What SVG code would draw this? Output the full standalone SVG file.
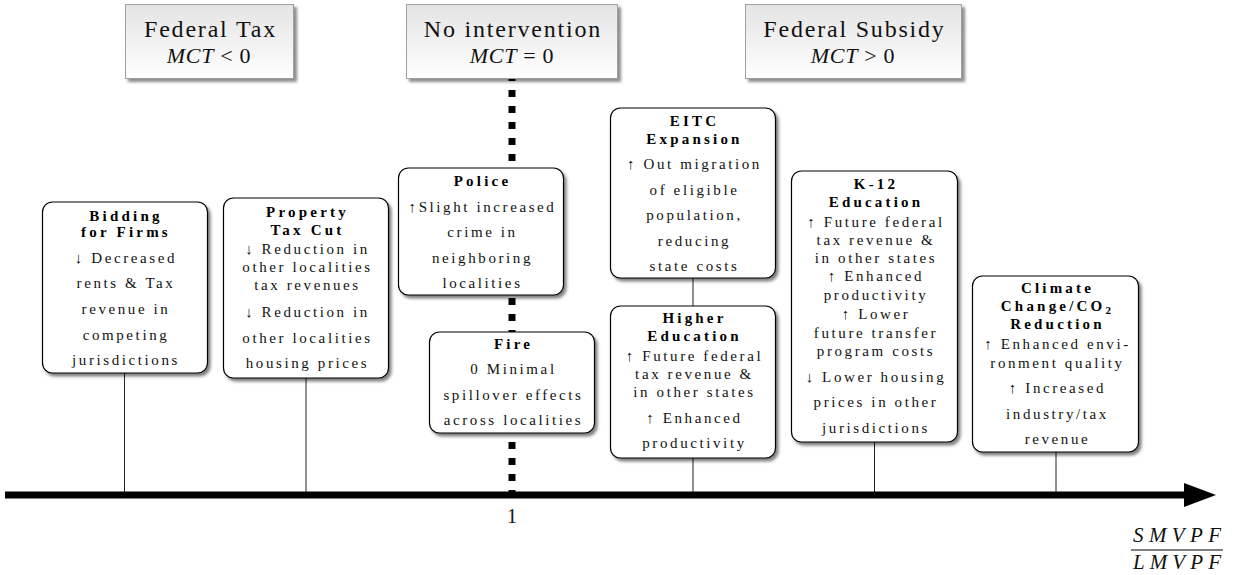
<svg xmlns="http://www.w3.org/2000/svg" width="1236" height="575" viewBox="0 0 1236 575">
<defs>
<linearGradient id="hg" x1="0" y1="0" x2="0" y2="1">
<stop offset="0" stop-color="#e4e4e4"/>
<stop offset="1" stop-color="#ffffff"/>
</linearGradient>
<filter id="hs" x="-10%" y="-10%" width="130%" height="140%">
<feDropShadow dx="3" dy="3" stdDeviation="1.5" flood-color="#000" flood-opacity="0.45"/>
</filter>
<filter id="ns" x="-10%" y="-10%" width="130%" height="130%">
<feDropShadow dx="2.5" dy="3" stdDeviation="1.6" flood-color="#000" flood-opacity="0.5"/>
</filter>
<style>
text{font-family:"Liberation Serif","Times New Roman",serif;fill:#111;text-anchor:middle}
.hdr rect{fill:url(#hg);stroke:#a0a0a0;stroke-width:1;filter:url(#hs)}
.hdr .h{font-size:24px;letter-spacing:1.8px}
.hdr .m{font-size:22px;letter-spacing:0.8px}
.node rect{fill:#fff;stroke:#000;stroke-width:1.2;filter:url(#ns)}
.t{font-weight:bold;font-size:15px;letter-spacing:3.2px;fill:#000}
.b{font-size:15px;letter-spacing:2.6px}
.conn line{stroke:#222;stroke-width:1}
.mi{font-style:italic}
</style>
</defs>

<g id="connectors" class="conn">
<line x1="512" y1="74" x2="512" y2="497" style="stroke:#000;stroke-width:7;stroke-dasharray:7 9"/>
<line x1="124.5" y1="373" x2="124.5" y2="495"/>
<line x1="306" y1="378" x2="306" y2="495"/>
<line x1="693" y1="278" x2="693" y2="306"/>
<line x1="693" y1="458" x2="693" y2="495"/>
<line x1="874.5" y1="442" x2="874.5" y2="495"/>
<line x1="1056" y1="452" x2="1056" y2="495"/>
</g>

<g id="axis">
<line x1="5" y1="495" x2="1190" y2="495" stroke="#000" stroke-width="7"/>
<polygon points="1184,483 1216,495 1184,507" fill="#000"/>
<text x="512" y="523" style="font-size:20px">1</text>
<text x="1177" y="542" class="mi" style="font-size:21px" textLength="88" lengthAdjust="spacing">SMVPF</text>
<line x1="1131" y1="550" x2="1223" y2="550" stroke="#000" stroke-width="1"/>
<text x="1177" y="569" class="mi" style="font-size:21px" textLength="88" lengthAdjust="spacing">LMVPF</text>
</g>

<g id="hdr-tax" class="hdr">
<rect x="125.5" y="4.5" width="168" height="74"/>
<text class="h" x="210.5" y="37">Federal Tax</text>
<text class="m" x="209" y="63"><tspan class="mi">MCT</tspan><tspan dx="6">&lt;</tspan><tspan dx="6">0</tspan></text>
</g>
<g id="hdr-none" class="hdr">
<rect x="406.5" y="4.5" width="211" height="74"/>
<text class="h" x="513" y="37">No intervention</text>
<text class="m" x="512" y="63"><tspan class="mi">MCT</tspan><tspan dx="6">=</tspan><tspan dx="6">0</tspan></text>
</g>
<g id="hdr-subsidy" class="hdr">
<rect x="745.5" y="4.5" width="216" height="74"/>
<text class="h" x="854.5" y="37">Federal Subsidy</text>
<text class="m" x="853" y="63"><tspan class="mi">MCT</tspan><tspan dx="6">&gt;</tspan><tspan dx="6">0</tspan></text>
</g>

<g id="bidding" class="node">
<rect x="42.5" y="202" width="165" height="171" rx="10"/>
<text class="t" x="126" y="221">Bidding</text>
<text class="t" x="126" y="237">for Firms</text>
<text class="b" x="126" y="263">↓ Decreased</text>
<text class="b" x="126" y="288">rents &amp; Tax</text>
<text class="b" x="126" y="314">revenue in</text>
<text class="b" x="126" y="340">competing</text>
<text class="b" x="126" y="365">jurisdictions</text>
</g>

<g id="property" class="node">
<rect x="223.5" y="198" width="165" height="180" rx="10"/>
<text class="t" x="307.5" y="217">Property</text>
<text class="t" x="307.5" y="235">Tax Cut</text>
<text class="b" x="307.5" y="254">↓ Reduction in</text>
<text class="b" x="307.5" y="272">other localities</text>
<text class="b" x="307.5" y="290">tax revenues</text>
<text class="b" x="307.5" y="317">↓ Reduction in</text>
<text class="b" x="307.5" y="343">other localities</text>
<text class="b" x="307.5" y="368">housing prices</text>
</g>

<g id="police" class="node">
<rect x="398.5" y="168" width="165" height="127" rx="10"/>
<text class="t" x="482.5" y="186">Police</text>
<text class="b" x="482.5" y="212">↑Slight increased</text>
<text class="b" x="482.5" y="237">crime in</text>
<text class="b" x="482.5" y="263">neighboring</text>
<text class="b" x="482.5" y="288">localities</text>
</g>

<g id="fire" class="node">
<rect x="429.5" y="332" width="165" height="101" rx="10"/>
<text class="t" x="513.5" y="349">Fire</text>
<text class="b" x="513.5" y="374">0 Minimal</text>
<text class="b" x="513.5" y="400">spillover effects</text>
<text class="b" x="513.5" y="425">across localities</text>
</g>

<g id="eitc" class="node">
<rect x="610.5" y="108" width="165" height="170" rx="10"/>
<text class="t" x="694.5" y="126">EITC</text>
<text class="t" x="694.5" y="144">Expansion</text>
<text class="b" x="694.5" y="169">↑ Out migration</text>
<text class="b" x="694.5" y="195">of eligible</text>
<text class="b" x="694.5" y="220">population,</text>
<text class="b" x="694.5" y="246">reducing</text>
<text class="b" x="694.5" y="271">state costs</text>
</g>

<g id="higher-ed" class="node">
<rect x="610.5" y="306" width="165" height="152" rx="10"/>
<text class="t" x="694.5" y="323">Higher</text>
<text class="t" x="694.5" y="341">Education</text>
<text class="b" x="694.5" y="361">↑ Future federal</text>
<text class="b" x="694.5" y="379">tax revenue &amp;</text>
<text class="b" x="694.5" y="397">in other states</text>
<text class="b" x="694.5" y="423">↑ Enhanced</text>
<text class="b" x="694.5" y="448">productivity</text>
</g>

<g id="k12" class="node">
<rect x="791.5" y="171" width="166" height="271" rx="10"/>
<text class="t" x="876" y="189">K-12</text>
<text class="t" x="876" y="207">Education</text>
<text class="b" x="876" y="227">↑ Future federal</text>
<text class="b" x="876" y="245">tax revenue &amp;</text>
<text class="b" x="876" y="263">in other states</text>
<text class="b" x="876" y="281">↑ Enhanced</text>
<text class="b" x="876" y="300">productivity</text>
<text class="b" x="876" y="319">↑ Lower</text>
<text class="b" x="876" y="338">future transfer</text>
<text class="b" x="876" y="356">program costs</text>
<text class="b" x="876" y="382">↓ Lower housing</text>
<text class="b" x="876" y="407">prices in other</text>
<text class="b" x="876" y="433">jurisdictions</text>
</g>

<g id="climate" class="node">
<rect x="972.5" y="276" width="166" height="176" rx="10"/>
<text class="t" x="1057.5" y="293">Climate</text>
<text class="t" x="1057.5" y="311">Change/CO<tspan style="font-size:11px" dy="3">2</tspan></text>
<text class="t" x="1057.5" y="329">Reduction</text>
<text class="b" x="1057.5" y="349">↑ Enhanced envi-</text>
<text class="b" x="1057.5" y="368">ronment quality</text>
<text class="b" x="1057.5" y="393">↑ Increased</text>
<text class="b" x="1057.5" y="419">industry/tax</text>
<text class="b" x="1057.5" y="444">revenue</text>
</g>
</svg>
